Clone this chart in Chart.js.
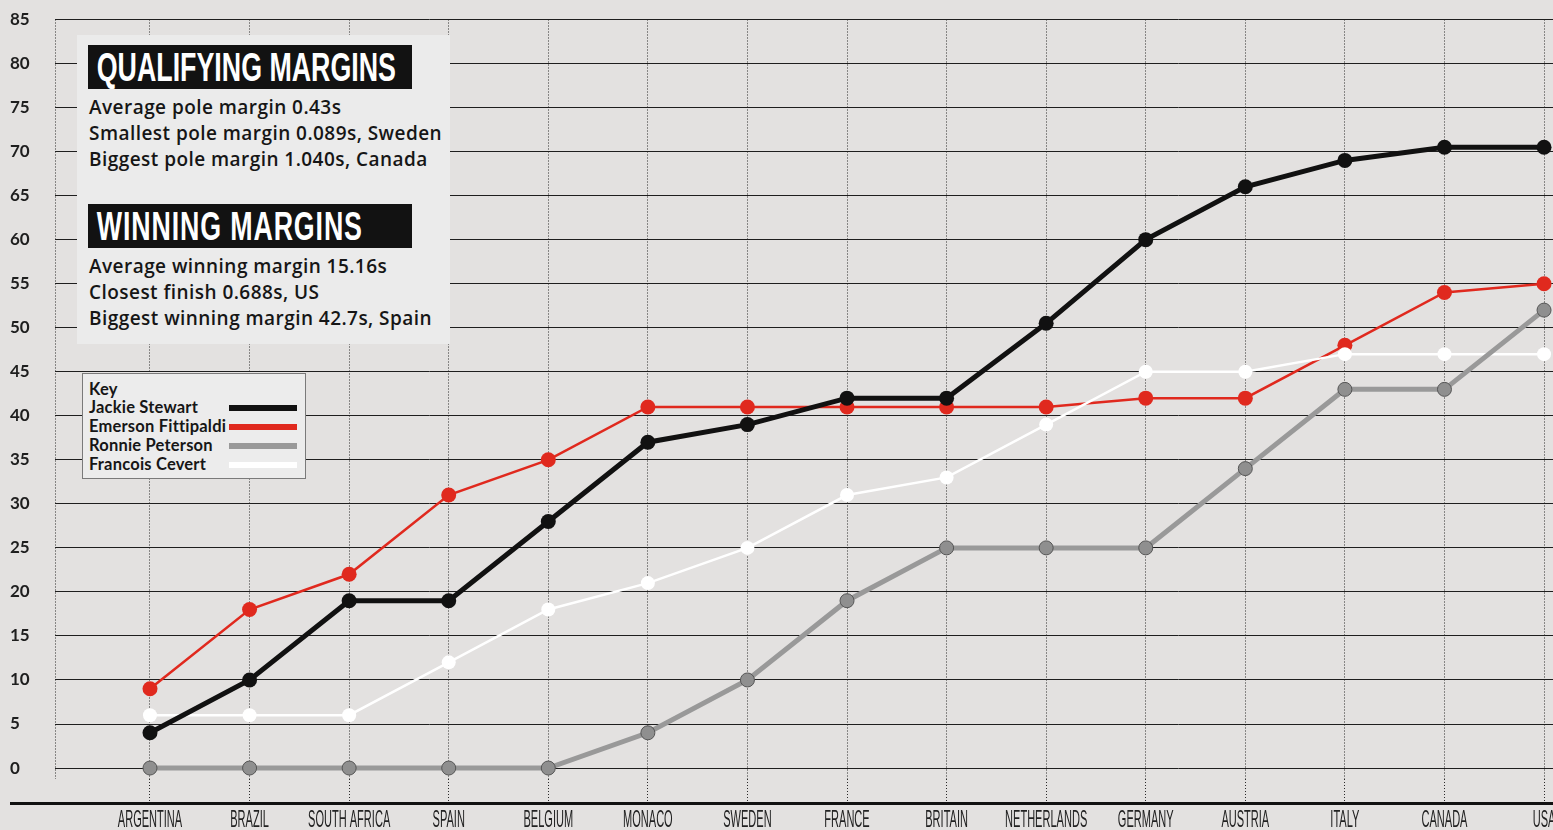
<!DOCTYPE html>
<html>
<head>
<meta charset="utf-8">
<script src="https://cdn.jsdelivr.net/npm/chart.js@4.4.0/dist/chart.umd.min.js"></script>
<style>
  html, body { margin: 0; padding: 0; }
  body { width: 1553px; height: 830px; background: #e3e1e0; position: relative; overflow: hidden; }
  #c { position: absolute; left: 0; top: 0; }
  .box { position: absolute; left: 77px; top: 35px; width: 373px; height: 309px; background: #ebebeb; }
  .hdr { position: absolute; left: 88px; width: 324px; height: 44px; background: #121212; overflow: hidden; }
  .hdr span { display: inline-block; color: #fff; font-family: "Liberation Sans", Arial, sans-serif; font-weight: bold; font-size: 40px; line-height: 44px; padding-left: 13px; transform: scaleX(0.67); transform-origin: 0 50%; white-space: nowrap; }
  .lines { position: absolute; left: 89px; font-family: "Open Sans", "Noto Sans", sans-serif; font-weight: 600; font-size: 19px; letter-spacing: 0.45px; line-height: 26px; color: #161616; white-space: nowrap; }
  .key { position: absolute; left: 82px; top: 373px; width: 222px; height: 104px; background: #ececec; border: 1px solid #7a7a7a; font-family: Lato, "Noto Sans", sans-serif; font-weight: 700; font-size: 16.5px; letter-spacing: 0.2px; color: #161616; }
  .key .row { position: absolute; left: 6px; height: 19px; line-height: 19px; white-space: nowrap; }
  .key .sw { position: absolute; left: 146px; width: 68px; height: 6px; }
</style>
</head>
<body>
<canvas id="c" width="1553" height="830"></canvas>
<div class="box"></div>
<div class="hdr" style="top:45px"><span id="h1"></span></div>
<div class="lines" id="t1" style="top:94px"></div>
<div class="hdr" style="top:204px"><span id="h2" style="letter-spacing:1.3px"></span></div>
<div class="lines" id="t2" style="top:253px"></div>
<div class="key" id="key"></div>
<script>
// ---- data ----
const races = ["ARGENTINA","BRAZIL","SOUTH AFRICA","SPAIN","BELGIUM","MONACO","SWEDEN","FRANCE","BRITAIN","NETHERLANDS","GERMANY","AUSTRIA","ITALY","CANADA","USA"];
const seriesNames = ["Jackie Stewart","Emerson Fittipaldi","Ronnie Peterson","Francois Cevert"];
const stewart    = [4, 10, 19, 19, 28, 37, 39, 42, 42, 50.5, 60, 66, 69, 70.5, 70.5];
const fittipaldi = [9, 18, 22, 31, 35, 41, 41, 41, 41, 41, 42, 42, 48, 54, 55];
const peterson   = [0, 0, 0, 0, 0, 4, 10, 19, 25, 25, 25, 34, 43, 43, 52];
const cevert     = [6, 6, 6, 12, 18, 21, 25, 31, 33, 39, 45, 45, 47, 47, 47];
const yTicks = [0,5,10,15,20,25,30,35,40,45,50,55,60,65,70,75,80,85];
const qualTitle = "QUALIFYING MARGINS";
const qualLines = ["Average pole margin 0.43s","Smallest pole margin 0.089s, Sweden","Biggest pole margin 1.040s, Canada"];
const winTitle = "WINNING MARGINS";
const winLines = ["Average winning margin 15.16s","Closest finish 0.688s, US","Biggest winning margin 42.7s, Spain"];
const keyTitle = "Key";

// ---- styles ----
const colors = ["#111111", "#e0291e", "#999999", "#ffffff"];

document.getElementById('h1').textContent = qualTitle;
document.getElementById('h2').textContent = winTitle;
document.getElementById('t1').innerHTML = qualLines.map(s => '<div>' + s + '</div>').join('');
document.getElementById('t2').innerHTML = winLines.map(s => '<div>' + s + '</div>').join('');
const key = document.getElementById('key');
let kh = '<div class="row" style="top:6px">' + keyTitle + '</div>';
seriesNames.forEach((n, i) => {
  const top = 24 + i * 19;
  kh += '<div class="row" style="top:' + top + 'px">' + n + '</div>';
  kh += '<div class="sw" style="top:' + (top + 7) + 'px;background:' + colors[i] + '"></div>';
});
key.innerHTML = kh;

const toXY = arr => arr.map((v, i) => ({x: i, y: v}));

const condense = {
  id: 'condense',
  beforeDraw(chart) {
    const sc = chart.scales.x;
    if (sc && !sc._condensed) {
      const orig = sc.drawLabels.bind(sc);
      sc.drawLabels = function(area) {
        const ctx = this.ctx;
        const r = CanvasRenderingContext2D.prototype.rotate;
        ctx.rotate = function(a) { r.call(ctx, a); ctx.scale(0.46, 1); };
        try { orig(area); } finally { delete ctx.rotate; }
      };
      sc._condensed = true;
    }
  },
  afterDraw(chart) {
    const ctx = chart.ctx;
    const y = chart.chartArea.bottom + 25;
    ctx.save();
    ctx.strokeStyle = '#111';
    ctx.lineWidth = 3;
    ctx.beginPath();
    ctx.moveTo(10, y);
    ctx.lineTo(chart.width, y);
    ctx.stroke();
    ctx.restore();
  }
};

new Chart(document.getElementById('c'), {
  type: 'line',
  data: {
    datasets: [
      { label: seriesNames[0], data: toXY(stewart), borderColor: colors[0], backgroundColor: colors[0], borderWidth: 5, pointRadius: 7.5, pointBorderWidth: 0, pointBackgroundColor: '#111', order: 0, clip: false },
      { label: seriesNames[1], data: toXY(fittipaldi), borderColor: colors[1], backgroundColor: colors[1], borderWidth: 2.5, pointRadius: 7.5, pointBorderWidth: 0, pointBackgroundColor: colors[1], order: 3, clip: false },
      { label: seriesNames[2], data: toXY(peterson), borderColor: colors[2], backgroundColor: '#8f8f8f', borderWidth: 5, pointRadius: 7, pointBorderWidth: 1, pointBorderColor: '#555', pointBackgroundColor: '#8f8f8f', order: 1, clip: false },
      { label: seriesNames[3], data: toXY(cevert), borderColor: colors[3], backgroundColor: colors[3], borderWidth: 2.5, pointRadius: 7, pointBorderWidth: 0, pointBackgroundColor: '#fff', order: 2, clip: false }
    ]
  },
  options: {
    responsive: false,
    animation: false,
    layout: { autoPadding: false, padding: { top: 19.5, left: 10, right: 0, bottom: 0 } },
    plugins: { legend: { display: false }, tooltip: { enabled: false } },
    elements: { line: { tension: 0 } },
    scales: {
      x: {
        type: 'linear',
        min: -0.954,
        max: 14.09,
        afterFit(s) { s.height = 51.4; s.paddingLeft = 0; s.paddingRight = 0; },
        afterBuildTicks(s) { s.ticks = [{value: -0.954}].concat(races.map((r, i) => ({value: i}))); },
        border: { display: false, dash: [1, 2] },
        grid: {
          color: '#2a2a2a', lineWidth: 1, drawTicks: true, tickLength: 25,
          tickColor: c => (c.tick && c.tick.value < 0) ? 'rgba(0,0,0,0)' : '#2a2a2a',
          tickBorderDash: [1, 2]
        },
        ticks: {
          autoSkip: false, maxRotation: 0, padding: 2,
          color: '#222',
          font: { family: '"Liberation Sans", Arial, sans-serif', size: 24 },
          callback: v => (Number.isInteger(v) && races[v] !== undefined) ? races[v] : ''
        }
      },
      y: {
        min: -1.2,
        max: 85,
        afterFit(s) { s.width = 45; s.paddingTop = 0; s.paddingBottom = 0; },
        afterBuildTicks(s) { s.ticks = yTicks.map(v => ({value: v})); },
        border: { display: false },
        grid: { color: '#1e1e1e', lineWidth: 1, drawTicks: false },
        ticks: {
          crossAlign: 'far', padding: 0,
          color: '#1e1e1e',
          font: { family: 'Lato, "Noto Sans", sans-serif', weight: 'bold', size: 17 },
          callback: v => String(v)
        }
      }
    }
  },
  plugins: [condense]
});
</script>
</body>
</html>
